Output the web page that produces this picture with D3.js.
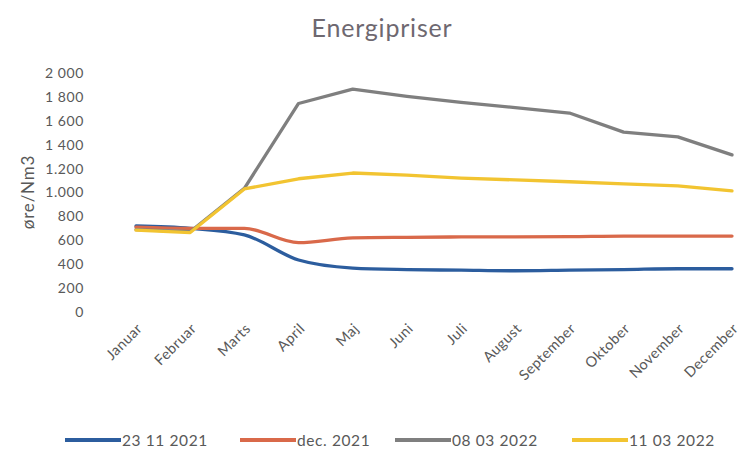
<!DOCTYPE html>
<html><head><meta charset="utf-8">
<script src="https://cdn.jsdelivr.net/npm/d3@7"></script>
<style>body{margin:0;background:#fff}svg{display:block}text{font-family:Lato,"Open Sans",sans-serif}</style>
</head><body><svg id="c" width="740" height="455"></svg>
<script>
const months = ["Januar","Februar","Marts","April","Maj","Juni","Juli","August","September","Oktober","November","December"];
const seriesNames = ["23 11 2021","dec. 2021","08 03 2022","11 03 2022"];
const s2311 = [720,700,645,435,368,355,350,345,350,355,362,362];
const sDec21 = [710,700,700,580,620,625,628,628,630,635,635,635];
const s0803 = [690,672,1035,1745,1865,1805,1755,1710,1665,1505,1465,1315];
const s1103 = [685,665,1030,1115,1163,1146,1121,1105,1090,1072,1055,1013];
const yTicks = [0,200,400,600,800,1000,1200,1400,1600,1800,2000];
const yTickLabels = ["0","200","400","600","800","1.000","1.200","1 400","1 600","1 800","2 000"];
const colors = ["#2c5d9e","#d9694a","#7f7f7f","#f2c431"];
const data = [s2311,sDec21,s0803,s1103];

const svg = d3.select("#c");
const x = d3.scalePoint().domain(months).range([136,732]);
const y = d3.scaleLinear().domain([0,2000]).range([312,73]);

svg.append("text").attr("x",382).attr("y",37).attr("text-anchor","middle")
  .attr("font-size",25).attr("letter-spacing",0.8).attr("fill","#6e6870").text("Energipriser");

svg.append("text").attr("transform","translate(34,192) rotate(-90)").attr("text-anchor","middle")
  .attr("font-size",17).attr("letter-spacing",0.8).attr("fill","#595959").text("øre/Nm3");

const yAxis = d3.axisLeft(y).tickValues(yTicks).tickFormat((d,i)=>yTickLabels[i]).tickSize(0).tickPadding(0);
const gy = svg.append("g").attr("transform","translate(84,0)").call(yAxis);
gy.select(".domain").remove();
gy.selectAll("text").attr("font-size",14).attr("letter-spacing",0.6).attr("fill","#595959").attr("font-family","Lato,sans-serif");

const xAxis = d3.axisBottom(x).tickSize(0).tickPadding(0);
const gx = svg.append("g").attr("transform","translate(0,326)").call(xAxis);
gx.select(".domain").remove();
gx.selectAll("text").attr("font-size",14.5).attr("letter-spacing",0.4).attr("fill","#595959").attr("font-family","Lato,sans-serif")
  .attr("text-anchor","end").attr("dy","0.35em").attr("transform","translate(3,0) rotate(-45)");

const smooth = d3.line().x((d,i)=>x(months[i])).y(d=>y(d)).curve(d3.curveMonotoneX);
const straight = d3.line().x((d,i)=>x(months[i])).y(d=>y(d)).curve(d3.curveLinear);
data.forEach((s,k)=>{
  svg.append("path").datum(s).attr("d",k>=2?straight:smooth).attr("fill","none")
    .attr("stroke",colors[k]).attr("stroke-width",3.3).attr("stroke-linejoin","round").attr("stroke-linecap","round");
});

const legX = [65,240,395,572];
seriesNames.forEach((n,k)=>{
  svg.append("line").attr("x1",legX[k]).attr("x2",legX[k]+56).attr("y1",440).attr("y2",440)
    .attr("stroke",colors[k]).attr("stroke-width",4);
  svg.append("text").attr("x",legX[k]+57).attr("y",446).attr("font-size",15.5).attr("letter-spacing",0.6).attr("fill","#595959").text(n);
});
</script></body></html>
